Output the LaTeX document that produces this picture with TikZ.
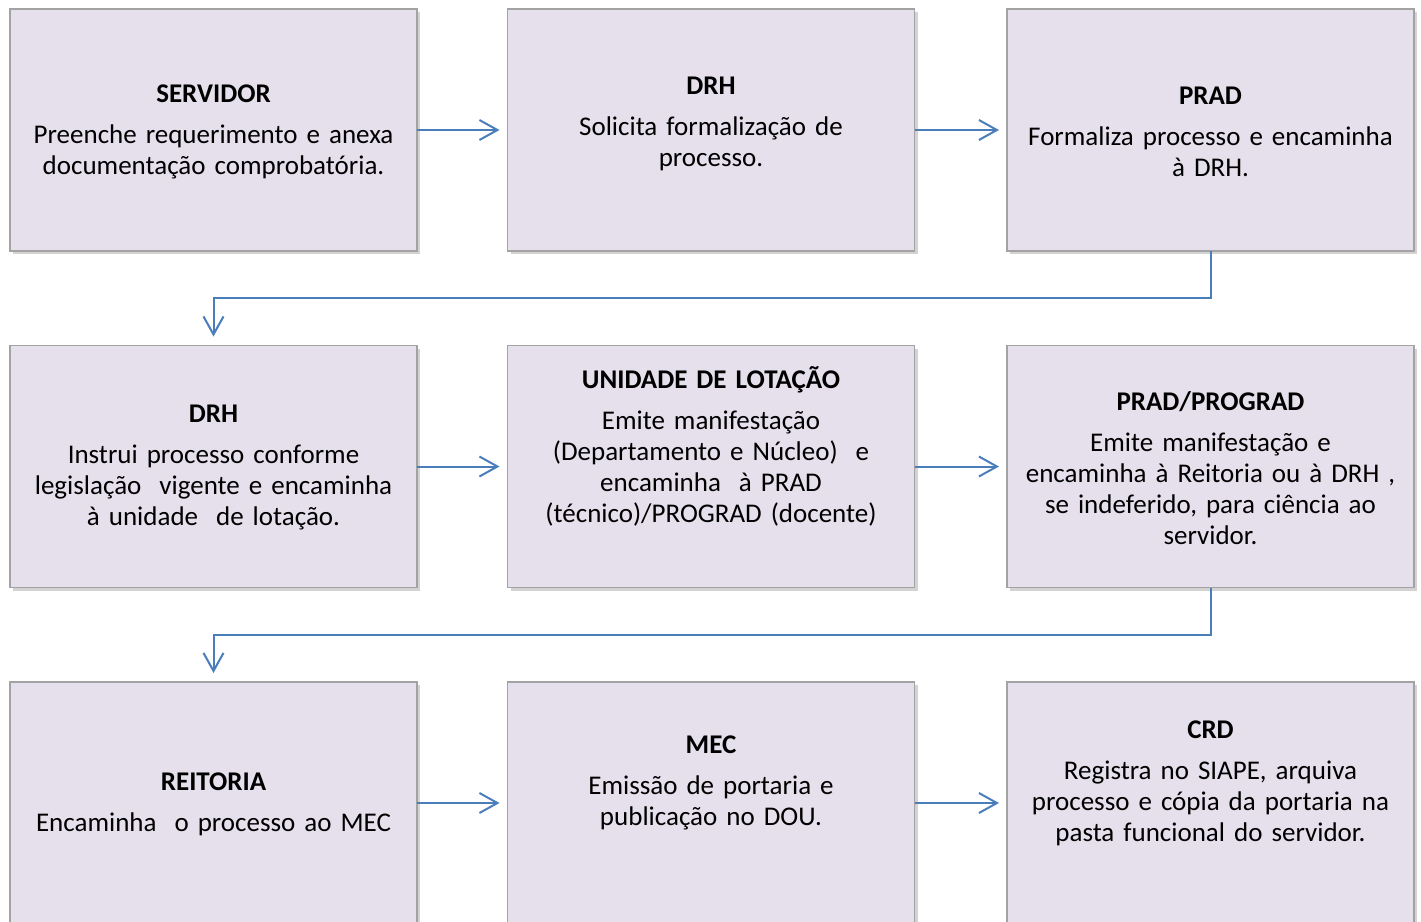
\documentclass[tikz,border=0pt]{standalone}
\usepackage{fontspec}
\setmainfont{Carlito}
\usepackage{tikz}
\usetikzlibrary{positioning, calc, arrows.meta, shadows}

\definecolor{boxfill}{HTML}{E5E0EC}
\definecolor{boxline}{HTML}{A3A3A3}
\definecolor{arrowblue}{HTML}{4A7EBB}

\begin{document}
\begin{tikzpicture}[x=0.5pt, y=-0.5pt,
    box/.style={rectangle, draw=boxline, line width=0.8pt, fill=boxfill,
        minimum width=203.5pt, minimum height=121pt, outer sep=0pt,
        drop shadow={shadow xshift=1.5pt, shadow yshift=-1.5pt, opacity=0.35}},
    txt/.style={align=center, text width=200pt, inner sep=0pt,
        font=\fontsize{13.5}{15.5}\selectfont},
    arr/.style={draw=arrowblue, line width=1pt,
        -{Straight Barb[length=9pt, width=10pt, line width=1pt]}}]
    \useasboundingbox (0,0) rectangle (1421,922);
    % first row
    \node[box] (servidor) at (213.5,130) {};
    \node[box] (drh1) at (711,130) {};
    \node[box] (prad1) at (1210.5,130) {};
    \node[txt] (servidorT) at (213.5,131.5) {\textbf{SERVIDOR}\\[5pt]Preenche requerimento e anexa\\documentação comprobatória.};
    \node[txt] (drh1T) at (711,123.5) {\textbf{DRH}\\[5pt]Solicita formalização de\\processo.};
    \node[txt] (prad1T) at (1210.5,131.5) {\textbf{PRAD}\\[5pt]Formaliza processo e encaminha\\à DRH.};
    % second row
    \node[box] (drh2) at (213.5,466.5) {};
    \node[box] (unidade) at (711,466.5) {};
    \node[box] (prograd) at (1210.5,466.5) {};
    \node[txt] (drh2T) at (213.5,468) {\textbf{DRH}\\[5pt]Instrui processo conforme\\legislação~ vigente e encaminha\\à unidade~ de lotação.};
    \node[txt] (unidadeT) at (711,446) {\textbf{UNIDADE DE LOTAÇÃO}\\[5pt]Emite manifestação\\(Departamento e Núcleo)~ e\\encaminha~ à PRAD\\(técnico)/PROGRAD (docente)};
    \node[txt] (progradT) at (1210.5,468.5) {\textbf{PRAD/PROGRAD}\\[5pt]Emite manifestação e\\encaminha à Reitoria ou à DRH ,\\se indeferido, para ciência ao\\servidor.};
    % third row
    \node[box] (reitoria) at (213.5,803) {};
    \node[box] (mec) at (711,803) {};
    \node[box] (crd) at (1210.5,803) {};
    \node[txt] (reitoriaT) at (213.5,804.5) {\textbf{REITORIA}\\[5pt]Encaminha~ o processo ao MEC};
    \node[txt] (mecT) at (711,783) {\textbf{MEC}\\[5pt]Emissão de portaria e\\publicação no DOU.};
    \node[txt] (crdT) at (1210.5,783.5) {\textbf{CRD}\\[5pt]Registra no SIAPE, arquiva\\processo e cópia da portaria na\\pasta funcional do servidor.};
    % connectors
    \draw[arr, shorten >=4pt] (servidor.east) -- (drh1.west);
    \draw[arr, shorten >=4pt] (drh1.east) -- (prad1.west);
    \draw[arr, shorten >=4.5pt] (prad1.south) -- ++(0,47) -| (drh2.north);
    \draw[arr, shorten >=4pt] (drh2.east) -- (unidade.west);
    \draw[arr, shorten >=4pt] (unidade.east) -- (prograd.west);
    \draw[arr, shorten >=4.5pt] (prograd.south) -- ++(0,47) -| (reitoria.north);
    \draw[arr, shorten >=4pt] (reitoria.east) -- (mec.west);
    \draw[arr, shorten >=4pt] (mec.east) -- (crd.west);
\end{tikzpicture}
\end{document}
